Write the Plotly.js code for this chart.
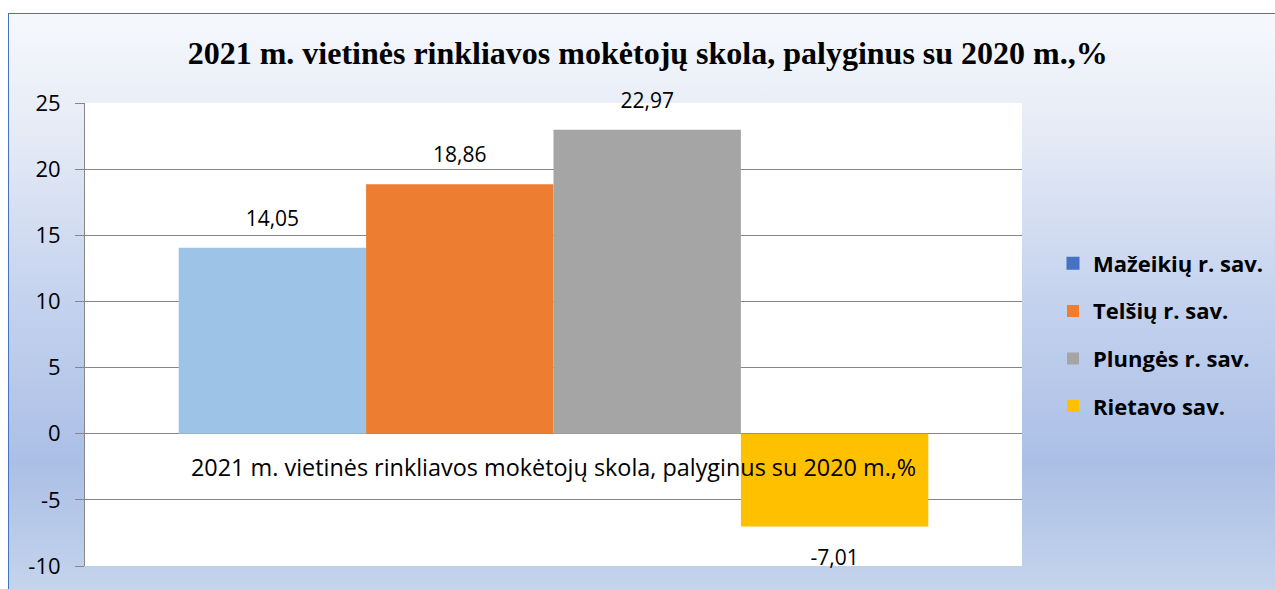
<!DOCTYPE html>
<html>
<head>
<meta charset="utf-8">
<script src="https://cdn.plot.ly/plotly-3.0.1.min.js"></script>
<style>
  html, body { margin: 0; padding: 0; background: #ffffff; }
  #frame {
    position: absolute; left: 8px; top: 13px; width: 1267px; height: 576px;
    box-sizing: border-box;
    border-top: 1.5px solid #4472C4; border-left: 1.5px solid #4472C4;
    background: linear-gradient(to bottom, #F6F8FC 0%, #E4EAF5 22%, #C4D2EE 50%, #ABBFE6 78%, #C4D4EC 100%);
  }
  #chart { position: absolute; left: 0; top: 0; width: 1275px; height: 589px; }
</style>
</head>
<body>
<div id="frame"></div>
<div id="chart"></div>
<script>
const chartTitle = "2021 m. vietinės rinkliavos mokėtojų skola, palyginus su 2020 m.,%";
const category = ["2021 m. vietinės rinkliavos mokėtojų skola, palyginus su 2020 m.,%"];
const seriesNames = ["Mažeikių r. sav.", "Telšių r. sav.", "Plungės r. sav.", "Rietavo sav."];
const seriesValues = [14.05, 18.86, 22.97, -7.01];
const barColors = ["#9DC3E6", "#ED7D31", "#A5A5A5", "#FFC000"];
const legendColors = ["#4472C4", "#ED7D31", "#A5A5A5", "#FFC000"];
const yTicks = [-10, -5, 0, 5, 10, 15, 20, 25];

const sansFont = "'Open Sans', sans-serif";
const traces = [];

// legend-only entries whose swatch colour differs from the bar colour
seriesNames.forEach((name, i) => {
  if (barColors[i] !== legendColors[i]) {
    traces.push({
      type: "scatter",
      mode: "markers",
      name: name,
      x: category,
      y: [null],
      xaxis: "x2",
      yaxis: "y2",
      marker: { symbol: "square", size: 13, color: legendColors[i] },
      showlegend: true,
      legendgroup: "g" + i,
      legendrank: i + 1,
      hoverinfo: "skip"
    });
  }
});

// bars
seriesNames.forEach((name, i) => {
  traces.push({
    type: "bar",
    name: name,
    x: category,
    y: [seriesValues[i]],
    marker: { color: barColors[i] },
    showlegend: barColors[i] === legendColors[i],
    legendgroup: "g" + i,
    legendrank: i + 1,
    hoverinfo: "skip"
  });
});

// value labels (grouped scatter text aligned with bars)
seriesNames.forEach((name, i) => {
  const positive = seriesValues[i] >= 0;
  traces.push({
    type: "scatter",
    mode: "markers+text",
    name: name + " label",
    x: category,
    y: [seriesValues[i]],
    text: [seriesValues[i].toFixed(2).replace(".", ",")],
    textposition: positive ? "top center" : "bottom center",
    textfont: { family: sansFont, size: 21, color: "#000000" },
    marker: { size: positive ? 25 : 35, opacity: 0, color: barColors[i] },
    cliponaxis: false,
    showlegend: false,
    hoverinfo: "skip"
  });
});

const layout = {
  width: 1275,
  height: 589,
  paper_bgcolor: "rgba(0,0,0,0)",
  plot_bgcolor: "#ffffff",
  separators: ",.",
  margin: { l: 85, r: 253, t: 103, b: 23 },
  barmode: "group",
  bargap: 0.2,
  bargroupgap: 0,
  scattermode: "group",
  scattergap: 0.2,
  showlegend: true,
  title: {
    text: "<b>" + chartTitle + "</b>",
    font: { family: "'Liberation Serif', 'Times New Roman', serif", size: 32, color: "#000000" },
    xref: "container", x: 0.508, xanchor: "center",
    yref: "container", y: 0.91, yanchor: "middle"
  },
  xaxis: {
    type: "category",
    showticklabels: false,
    showgrid: false,
    showline: false,
    zeroline: false,
    fixedrange: true
  },
  xaxis2: { type: "category", overlaying: "x", visible: false },
  yaxis2: { overlaying: "y", visible: false, range: [-10, 25] },
  yaxis: {
    range: [-10, 25],
    tickvals: yTicks,
    ticktext: yTicks.map(String),
    tickfont: { family: sansFont, size: 22, color: "#000000" },
    ticks: "outside",
    ticklen: 9,
    tickcolor: "#868686",
    ticklabelstandoff: 10,
    showline: true,
    linecolor: "#868686",
    linewidth: 1,
    showgrid: true,
    gridcolor: "#868686",
    gridwidth: 1,
    zeroline: true,
    zerolinecolor: "#868686",
    zerolinewidth: 1,
    fixedrange: true
  },
  legend: {
    xref: "container", x: 1053 / 1275, xanchor: "left",
    yref: "container", y: 1 - 335 / 589, yanchor: "middle",
    bgcolor: "rgba(0,0,0,0)",
    font: { family: sansFont, size: 22, color: "#000000", weight: "bold" },
    tracegroupgap: 16,
    itemwidth: 30,
    traceorder: "grouped"
  },
  annotations: [{
    text: category[0],
    xref: "x", x: category[0],
    yref: "y", y: -2.55,
    showarrow: false,
    xanchor: "center", yanchor: "middle",
    font: { family: sansFont, size: 23.4, color: "#000000" }
  }]
};

Plotly.newPlot("chart", traces, layout, { staticPlot: true, displayModeBar: false });
</script>
</body>
</html>
